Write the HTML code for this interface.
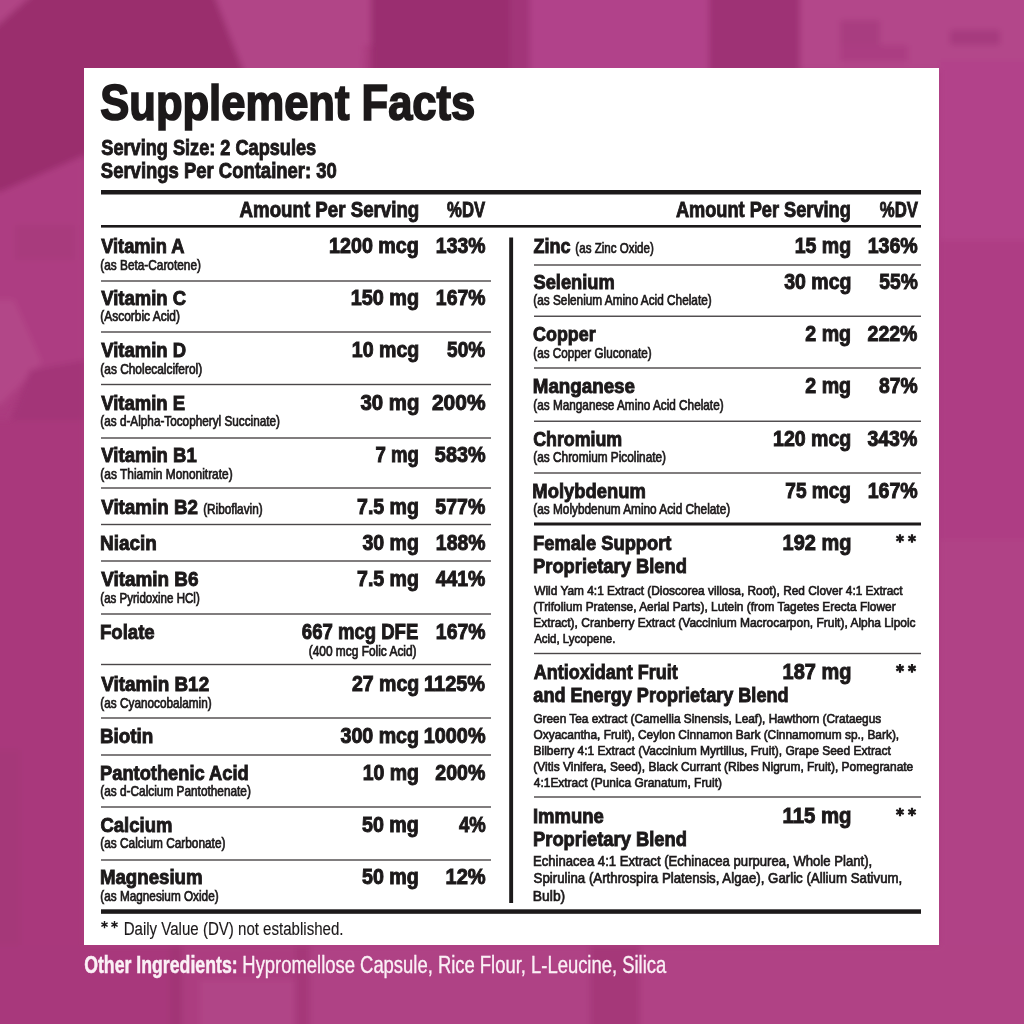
<!DOCTYPE html>
<html><head><meta charset="utf-8"><title>Supplement Facts</title>
<style>
html,body{margin:0;padding:0;width:1024px;height:1024px;overflow:hidden;background:#ab3c7f;}
svg{display:block;will-change:transform;}
text{font-family:"Liberation Sans",sans-serif;}
.B{font-weight:700;}
</style></head><body>
<svg width="1024" height="1024" viewBox="0 0 1024 1024">
<defs><filter id="bl" x="-10%" y="-10%" width="120%" height="120%"><feGaussianBlur stdDeviation="3"/></filter></defs>
<rect x="0" y="0" width="1024" height="1024" fill="#ab3c7f"/>
<g filter="url(#bl)">
<polygon points="-10,-10 250,-10 250,150 85,155 0,192 -10,192" fill="#9a2d6d"/>
<polygon points="-10,-10 38,-10 -10,32" fill="#b04585"/>
<polygon points="212,-10 372,-10 371,45 364,45 363,80 247,80" fill="#b14587"/>
<rect x="371" y="-10" width="139" height="90" fill="#9a2f70"/>
<rect x="510" y="-10" width="20" height="90" fill="#a23679"/>
<rect x="530" y="-10" width="180" height="90" fill="#b1438a"/>
<rect x="709" y="-10" width="91" height="90" fill="#9e3274"/>
<rect x="800" y="-10" width="240" height="80" fill="#b3468a"/>
<rect x="840" y="20" width="40" height="30" fill="#a83c80"/>
<rect x="950" y="30" width="50" height="15" fill="#a63a7e"/>
<rect x="840" y="45" width="68" height="17" fill="#ab3e82"/>
<polygon points="-10,192 0,192 85,155 85,370 -10,370" fill="#ad3e82"/>
<rect x="15" y="225" width="60" height="35" fill="#a83a7d"/>
<polygon points="-10,300 14,300 42,363 0,405 -10,405" fill="#b24688"/>
<polygon points="30,370 85,360 85,440 10,420" fill="#a33478"/>
<rect x="-10" y="420" width="95" height="530" fill="#a9397c"/>
<rect x="-10" y="750" width="30" height="200" fill="#a53779"/>
<rect x="939" y="60" width="95" height="180" fill="#b2438a"/>
<rect x="939" y="240" width="95" height="300" fill="#ae3e84"/>
<rect x="939" y="540" width="95" height="420" fill="#b04286"/>
<rect x="-10" y="945" width="180" height="90" fill="#a8387b"/>
<rect x="170" y="945" width="12" height="90" fill="#a13476"/>
<rect x="182" y="945" width="118" height="90" fill="#ac3d80"/>
<rect x="200" y="980" width="95" height="50" fill="#b04587"/>
<rect x="295" y="945" width="15" height="90" fill="#a53879"/>
<rect x="310" y="945" width="280" height="90" fill="#af4285"/>
<rect x="590" y="945" width="50" height="90" fill="#a53879"/>
<rect x="640" y="945" width="394" height="90" fill="#b04385"/>
</g>
<rect x="84" y="68" width="855" height="877" fill="#ffffff"/>
<rect x="101" y="190" width="820" height="4.5" fill="#1c191a"/>
<rect x="101" y="225" width="820" height="2.6" fill="#1c191a"/>
<rect x="101" y="909.3" width="820" height="4.5" fill="#1c191a"/>
<rect x="509.2" y="237.5" width="3.9" height="665.5" fill="#1c191a"/>
<rect x="101" y="280.3" width="390" height="1.4" fill="#4a4648"/>
<rect x="101" y="331.3" width="390" height="1.4" fill="#4a4648"/>
<rect x="101" y="383.8" width="390" height="1.4" fill="#4a4648"/>
<rect x="101" y="437.3" width="390" height="1.4" fill="#4a4648"/>
<rect x="101" y="487.3" width="390" height="1.4" fill="#4a4648"/>
<rect x="101" y="523.8" width="390" height="1.4" fill="#4a4648"/>
<rect x="101" y="560.3" width="390" height="1.4" fill="#4a4648"/>
<rect x="101" y="613.3" width="390" height="1.4" fill="#4a4648"/>
<rect x="101" y="663.8" width="390" height="1.4" fill="#4a4648"/>
<rect x="101" y="717.3" width="390" height="1.4" fill="#4a4648"/>
<rect x="101" y="754.3" width="390" height="1.4" fill="#4a4648"/>
<rect x="101" y="806.3" width="390" height="1.4" fill="#4a4648"/>
<rect x="101" y="859.3" width="390" height="1.4" fill="#4a4648"/>
<rect x="534" y="264.3" width="387" height="1.4" fill="#4a4648"/>
<rect x="534" y="315.55" width="387" height="1.4" fill="#4a4648"/>
<rect x="534" y="367.3" width="387" height="1.4" fill="#4a4648"/>
<rect x="534" y="420.55" width="387" height="1.4" fill="#4a4648"/>
<rect x="534" y="472.3" width="387" height="1.4" fill="#4a4648"/>
<rect x="534" y="522.5" width="387" height="3" fill="#1c191a"/>
<rect x="534" y="652.8" width="387" height="1.4" fill="#4a4648"/>
<rect x="534" y="796.3" width="387" height="1.4" fill="#4a4648"/>
<text class="B" stroke="#1c191a" stroke-width="1.7" transform="translate(100.28 119.9) scale(0.8799 1)" font-size="49.5" fill="#1c191a">Supplement Facts</text>
<text class="B" stroke="#1c191a" stroke-width="0.9" transform="translate(101.36 154.5) scale(0.8329 1)" font-size="21.8" fill="#1c191a">Serving Size: 2 Capsules</text>
<text class="B" stroke="#1c191a" stroke-width="0.9" transform="translate(100.85 177.5) scale(0.8475 1)" font-size="21.8" fill="#1c191a">Servings Per Container: 30</text>
<text class="B" stroke="#1c191a" stroke-width="0.9" transform="translate(419.28 217.2) scale(0.8823 1)" font-size="21.2" text-anchor="end" fill="#1c191a">Amount Per Serving</text>
<text class="B" stroke="#1c191a" stroke-width="0.9" transform="translate(485.09 217.2) scale(0.7877 1)" font-size="21.2" text-anchor="end" fill="#1c191a">%DV</text>
<text class="B" stroke="#1c191a" stroke-width="0.9" transform="translate(850.86 217) scale(0.8590 1)" font-size="21.2" text-anchor="end" fill="#1c191a">Amount Per Serving</text>
<text class="B" stroke="#1c191a" stroke-width="0.9" transform="translate(917.97 217) scale(0.7900 1)" font-size="21.2" text-anchor="end" fill="#1c191a">%DV</text>
<text class="B" stroke="#1c191a" stroke-width="0.95" transform="translate(101.13 253) scale(0.8673 1)" font-size="21.1" fill="#1c191a">Vitamin A</text>
<text stroke="#1c191a" stroke-width="0.7" transform="translate(100.32 269.5) scale(0.8580 1)" font-size="13.8" fill="#1c191a">(as Beta-Carotene)</text>
<text class="B" stroke="#1c191a" stroke-width="0.95" transform="translate(418.73 253) scale(0.9288 1)" font-size="21.2" text-anchor="end" fill="#1c191a">1200 mcg</text>
<text class="B" stroke="#1c191a" stroke-width="0.95" transform="translate(485.46 253) scale(0.9157 1)" font-size="21.2" text-anchor="end" fill="#1c191a">133%</text>
<text class="B" stroke="#1c191a" stroke-width="0.95" transform="translate(101.21 305) scale(0.8758 1)" font-size="21.1" fill="#1c191a">Vitamin C</text>
<text stroke="#1c191a" stroke-width="0.7" transform="translate(100.31 321) scale(0.8662 1)" font-size="13.8" fill="#1c191a">(Ascorbic Acid)</text>
<text class="B" stroke="#1c191a" stroke-width="0.95" transform="translate(419.00 305) scale(0.9342 1)" font-size="21.2" text-anchor="end" fill="#1c191a">150 mg</text>
<text class="B" stroke="#1c191a" stroke-width="0.95" transform="translate(485.46 305) scale(0.9157 1)" font-size="21.2" text-anchor="end" fill="#1c191a">167%</text>
<text class="B" stroke="#1c191a" stroke-width="0.95" transform="translate(101.20 357) scale(0.8756 1)" font-size="21.1" fill="#1c191a">Vitamin D</text>
<text stroke="#1c191a" stroke-width="0.7" transform="translate(100.31 374) scale(0.8637 1)" font-size="13.8" fill="#1c191a">(as Cholecalciferol)</text>
<text class="B" stroke="#1c191a" stroke-width="0.95" transform="translate(419.26 357) scale(0.9235 1)" font-size="21.2" text-anchor="end" fill="#1c191a">10 mcg</text>
<text class="B" stroke="#1c191a" stroke-width="0.95" transform="translate(485.12 357) scale(0.8973 1)" font-size="21.2" text-anchor="end" fill="#1c191a">50%</text>
<text class="B" stroke="#1c191a" stroke-width="0.95" transform="translate(101.17 409.5) scale(0.8767 1)" font-size="21.1" fill="#1c191a">Vitamin E</text>
<text stroke="#1c191a" stroke-width="0.7" transform="translate(100.31 426) scale(0.8523 1)" font-size="13.8" fill="#1c191a">(as d-Alpha-Tocopheryl Succinate)</text>
<text class="B" stroke="#1c191a" stroke-width="0.95" transform="translate(419.36 409.5) scale(0.9625 1)" font-size="21.2" text-anchor="end" fill="#1c191a">30 mg</text>
<text class="B" stroke="#1c191a" stroke-width="0.95" transform="translate(485.50 409.5) scale(0.9878 1)" font-size="21.2" text-anchor="end" fill="#1c191a">200%</text>
<text class="B" stroke="#1c191a" stroke-width="0.95" transform="translate(101.35 462) scale(0.8776 1)" font-size="21.1" fill="#1c191a">Vitamin B1</text>
<text stroke="#1c191a" stroke-width="0.7" transform="translate(100.34 478.5) scale(0.8647 1)" font-size="13.8" fill="#1c191a">(as Thiamin Mononitrate)</text>
<text class="B" stroke="#1c191a" stroke-width="0.95" transform="translate(418.90 462) scale(0.8771 1)" font-size="21.2" text-anchor="end" fill="#1c191a">7 mg</text>
<text class="B" stroke="#1c191a" stroke-width="0.95" transform="translate(485.63 462) scale(0.9372 1)" font-size="21.2" text-anchor="end" fill="#1c191a">583%</text>
<text class="B" stroke="#1c191a" stroke-width="0.95" transform="translate(101.21 514) scale(0.8903 1)" font-size="21.1" fill="#1c191a">Vitamin B2</text>
<text class="B" stroke="#1c191a" stroke-width="0.95" transform="translate(418.94 514) scale(0.9226 1)" font-size="21.2" text-anchor="end" fill="#1c191a">7.5 mg</text>
<text class="B" stroke="#1c191a" stroke-width="0.95" transform="translate(485.29 514) scale(0.9228 1)" font-size="21.2" text-anchor="end" fill="#1c191a">577%</text>
<text class="B" stroke="#1c191a" stroke-width="0.95" transform="translate(100.00 549.5) scale(0.8974 1)" font-size="21.1" fill="#1c191a">Niacin</text>
<text class="B" stroke="#1c191a" stroke-width="0.95" transform="translate(418.91 549.5) scale(0.9223 1)" font-size="21.2" text-anchor="end" fill="#1c191a">30 mg</text>
<text class="B" stroke="#1c191a" stroke-width="0.95" transform="translate(485.46 549.5) scale(0.9157 1)" font-size="21.2" text-anchor="end" fill="#1c191a">188%</text>
<text class="B" stroke="#1c191a" stroke-width="0.95" transform="translate(101.22 586) scale(0.8964 1)" font-size="21.1" fill="#1c191a">Vitamin B6</text>
<text stroke="#1c191a" stroke-width="0.7" transform="translate(100.32 602.5) scale(0.8366 1)" font-size="13.8" fill="#1c191a">(as Pyridoxine HCl)</text>
<text class="B" stroke="#1c191a" stroke-width="0.95" transform="translate(418.94 586) scale(0.9226 1)" font-size="21.2" text-anchor="end" fill="#1c191a">7.5 mg</text>
<text class="B" stroke="#1c191a" stroke-width="0.95" transform="translate(485.42 586) scale(0.9186 1)" font-size="21.2" text-anchor="end" fill="#1c191a">441%</text>
<text class="B" stroke="#1c191a" stroke-width="0.95" transform="translate(99.94 639) scale(0.8823 1)" font-size="21.1" fill="#1c191a">Folate</text>
<text class="B" stroke="#1c191a" stroke-width="0.95" transform="translate(418.26 639) scale(0.8747 1)" font-size="21.2" text-anchor="end" fill="#1c191a">667 mcg DFE</text>
<text class="B" stroke="#1c191a" stroke-width="0.95" transform="translate(485.46 639) scale(0.9157 1)" font-size="21.2" text-anchor="end" fill="#1c191a">167%</text>
<text class="B" stroke="#1c191a" stroke-width="0.95" transform="translate(101.22 691) scale(0.8970 1)" font-size="21.1" fill="#1c191a">Vitamin B12</text>
<text stroke="#1c191a" stroke-width="0.7" transform="translate(100.33 707.5) scale(0.8543 1)" font-size="13.8" fill="#1c191a">(as Cyanocobalamin)</text>
<text class="B" stroke="#1c191a" stroke-width="0.95" transform="translate(419.25 691) scale(0.9222 1)" font-size="21.2" text-anchor="end" fill="#1c191a">27 mcg</text>
<text class="B" stroke="#1c191a" stroke-width="0.95" transform="translate(485.10 691) scale(0.9409 1)" font-size="21.2" text-anchor="end" fill="#1c191a">1125%</text>
<text class="B" stroke="#1c191a" stroke-width="0.95" transform="translate(99.96 743) scale(0.8929 1)" font-size="21.1" fill="#1c191a">Biotin</text>
<text class="B" stroke="#1c191a" stroke-width="0.95" transform="translate(418.97 743) scale(0.9259 1)" font-size="21.2" text-anchor="end" fill="#1c191a">300 mcg</text>
<text class="B" stroke="#1c191a" stroke-width="0.95" transform="translate(485.58 743) scale(0.9375 1)" font-size="21.2" text-anchor="end" fill="#1c191a">1000%</text>
<text class="B" stroke="#1c191a" stroke-width="0.95" transform="translate(100.04 779.5) scale(0.8664 1)" font-size="21.1" fill="#1c191a">Pantothenic Acid</text>
<text stroke="#1c191a" stroke-width="0.7" transform="translate(100.31 796) scale(0.8583 1)" font-size="13.8" fill="#1c191a">(as d-Calcium Pantothenate)</text>
<text class="B" stroke="#1c191a" stroke-width="0.95" transform="translate(418.95 779.5) scale(0.9191 1)" font-size="21.2" text-anchor="end" fill="#1c191a">10 mg</text>
<text class="B" stroke="#1c191a" stroke-width="0.95" transform="translate(485.35 779.5) scale(0.9235 1)" font-size="21.2" text-anchor="end" fill="#1c191a">200%</text>
<text class="B" stroke="#1c191a" stroke-width="0.95" transform="translate(100.52 832) scale(0.8752 1)" font-size="21.1" fill="#1c191a">Calcium</text>
<text stroke="#1c191a" stroke-width="0.7" transform="translate(100.31 848) scale(0.8588 1)" font-size="13.8" fill="#1c191a">(as Calcium Carbonate)</text>
<text class="B" stroke="#1c191a" stroke-width="0.95" transform="translate(418.76 832) scale(0.9254 1)" font-size="21.2" text-anchor="end" fill="#1c191a">50 mg</text>
<text class="B" stroke="#1c191a" stroke-width="0.95" transform="translate(485.67 832) scale(0.8743 1)" font-size="21.2" text-anchor="end" fill="#1c191a">4%</text>
<text class="B" stroke="#1c191a" stroke-width="0.95" transform="translate(99.92 884) scale(0.8853 1)" font-size="21.1" fill="#1c191a">Magnesium</text>
<text stroke="#1c191a" stroke-width="0.7" transform="translate(100.34 900.5) scale(0.8526 1)" font-size="13.8" fill="#1c191a">(as Magnesium Oxide)</text>
<text class="B" stroke="#1c191a" stroke-width="0.95" transform="translate(418.76 884) scale(0.9254 1)" font-size="21.2" text-anchor="end" fill="#1c191a">50 mg</text>
<text class="B" stroke="#1c191a" stroke-width="0.95" transform="translate(485.72 884) scale(0.9479 1)" font-size="21.2" text-anchor="end" fill="#1c191a">12%</text>
<text stroke="#1c191a" stroke-width="0.7" transform="translate(203.13 514) scale(0.8532 1)" font-size="13.8" fill="#1c191a">(Riboflavin)</text>
<text stroke="#1c191a" stroke-width="0.7" transform="translate(416.58 655.5) scale(0.8646 1)" font-size="13.8" text-anchor="end" fill="#1c191a">(400 mcg Folic Acid)</text>
<text class="B" stroke="#1c191a" stroke-width="0.95" transform="translate(533.41 253) scale(0.8544 1)" font-size="21.1" fill="#1c191a">Zinc</text>
<text class="B" stroke="#1c191a" stroke-width="0.95" transform="translate(851.09 253) scale(0.9218 1)" font-size="21.2" text-anchor="end" fill="#1c191a">15 mg</text>
<text class="B" stroke="#1c191a" stroke-width="0.95" transform="translate(917.74 253) scale(0.9241 1)" font-size="21.2" text-anchor="end" fill="#1c191a">136%</text>
<text class="B" stroke="#1c191a" stroke-width="0.95" transform="translate(533.44 288.75) scale(0.8669 1)" font-size="21.1" fill="#1c191a">Selenium</text>
<text stroke="#1c191a" stroke-width="0.7" transform="translate(533.35 305) scale(0.8554 1)" font-size="13.8" fill="#1c191a">(as Selenium Amino Acid Chelate)</text>
<text class="B" stroke="#1c191a" stroke-width="0.95" transform="translate(851.45 288.75) scale(0.9195 1)" font-size="21.2" text-anchor="end" fill="#1c191a">30 mcg</text>
<text class="B" stroke="#1c191a" stroke-width="0.95" transform="translate(917.80 288.75) scale(0.9070 1)" font-size="21.2" text-anchor="end" fill="#1c191a">55%</text>
<text class="B" stroke="#1c191a" stroke-width="0.95" transform="translate(533.10 341.25) scale(0.8479 1)" font-size="21.1" fill="#1c191a">Copper</text>
<text stroke="#1c191a" stroke-width="0.7" transform="translate(533.35 357.5) scale(0.8488 1)" font-size="13.8" fill="#1c191a">(as Copper Gluconate)</text>
<text class="B" stroke="#1c191a" stroke-width="0.95" transform="translate(851.06 341.25) scale(0.9259 1)" font-size="21.2" text-anchor="end" fill="#1c191a">2 mg</text>
<text class="B" stroke="#1c191a" stroke-width="0.95" transform="translate(917.42 341.25) scale(0.9192 1)" font-size="21.2" text-anchor="end" fill="#1c191a">222%</text>
<text class="B" stroke="#1c191a" stroke-width="0.95" transform="translate(532.78 393.25) scale(0.8896 1)" font-size="21.1" fill="#1c191a">Manganese</text>
<text stroke="#1c191a" stroke-width="0.7" transform="translate(533.31 409.5) scale(0.8535 1)" font-size="13.8" fill="#1c191a">(as Manganese Amino Acid Chelate)</text>
<text class="B" stroke="#1c191a" stroke-width="0.95" transform="translate(851.06 393.25) scale(0.9259 1)" font-size="21.2" text-anchor="end" fill="#1c191a">2 mg</text>
<text class="B" stroke="#1c191a" stroke-width="0.95" transform="translate(917.76 393.25) scale(0.9123 1)" font-size="21.2" text-anchor="end" fill="#1c191a">87%</text>
<text class="B" stroke="#1c191a" stroke-width="0.95" transform="translate(533.13 445.75) scale(0.8450 1)" font-size="21.1" fill="#1c191a">Chromium</text>
<text stroke="#1c191a" stroke-width="0.7" transform="translate(533.31 462) scale(0.8577 1)" font-size="13.8" fill="#1c191a">(as Chromium Picolinate)</text>
<text class="B" stroke="#1c191a" stroke-width="0.95" transform="translate(851.24 445.75) scale(0.9227 1)" font-size="21.2" text-anchor="end" fill="#1c191a">120 mcg</text>
<text class="B" stroke="#1c191a" stroke-width="0.95" transform="translate(917.34 445.75) scale(0.9206 1)" font-size="21.2" text-anchor="end" fill="#1c191a">343%</text>
<text class="B" stroke="#1c191a" stroke-width="0.95" transform="translate(532.35 497.5) scale(0.8722 1)" font-size="21.1" fill="#1c191a">Molybdenum</text>
<text stroke="#1c191a" stroke-width="0.7" transform="translate(533.35 513.75) scale(0.8564 1)" font-size="13.8" fill="#1c191a">(as Molybdenum Amino Acid Chelate)</text>
<text class="B" stroke="#1c191a" stroke-width="0.95" transform="translate(851.03 497.5) scale(0.9007 1)" font-size="21.2" text-anchor="end" fill="#1c191a">75 mcg</text>
<text class="B" stroke="#1c191a" stroke-width="0.95" transform="translate(917.74 497.5) scale(0.9241 1)" font-size="21.2" text-anchor="end" fill="#1c191a">167%</text>
<text stroke="#1c191a" stroke-width="0.7" transform="translate(575.36 253) scale(0.8391 1)" font-size="13.8" fill="#1c191a">(as Zinc Oxide)</text>
<text class="B" stroke="#1c191a" stroke-width="0.95" transform="translate(533.03 549.5) scale(0.8685 1)" font-size="21.1" fill="#1c191a">Female Support</text>
<text class="B" stroke="#1c191a" stroke-width="0.95" transform="translate(533.03 572.5) scale(0.8700 1)" font-size="21.1" fill="#1c191a">Proprietary Blend</text>
<text class="B" stroke="#1c191a" stroke-width="0.95" transform="translate(851.36 549.5) scale(0.9413 1)" font-size="21.2" text-anchor="end" fill="#1c191a">192 mg</text>
<text stroke="#1c191a" stroke-width="0.7" transform="translate(534.25 595) scale(0.8669 1)" font-size="13.7" fill="#1c191a">Wild Yam 4:1 Extract (Dioscorea villosa, Root), Red Clover 4:1 Extract</text>
<text stroke="#1c191a" stroke-width="0.7" transform="translate(533.37 611) scale(0.8673 1)" font-size="13.7" fill="#1c191a">(Trifolium Pratense, Aerial Parts), Lutein (from Tagetes Erecta Flower</text>
<text stroke="#1c191a" stroke-width="0.7" transform="translate(533.37 627.2) scale(0.8741 1)" font-size="13.7" fill="#1c191a">Extract), Cranberry Extract (Vaccinium Macrocarpon, Fruit), Alpha Lipoic</text>
<text stroke="#1c191a" stroke-width="0.7" transform="translate(534.15 643.2) scale(0.8387 1)" font-size="13.7" fill="#1c191a">Acid, Lycopene.</text>
<text class="B" stroke="#1c191a" stroke-width="0.95" transform="translate(533.65 679.4) scale(0.8535 1)" font-size="21.1" fill="#1c191a">Antioxidant Fruit</text>
<text class="B" stroke="#1c191a" stroke-width="0.95" transform="translate(533.35 701.5) scale(0.8573 1)" font-size="21.1" fill="#1c191a">and Energy Proprietary Blend</text>
<text class="B" stroke="#1c191a" stroke-width="0.95" transform="translate(851.36 679.4) scale(0.9413 1)" font-size="21.2" text-anchor="end" fill="#1c191a">187 mg</text>
<text stroke="#1c191a" stroke-width="0.7" transform="translate(533.39 722.9) scale(0.8645 1)" font-size="13.7" fill="#1c191a">Green Tea extract (Camellia Sinensis, Leaf), Hawthorn (Crataegus</text>
<text stroke="#1c191a" stroke-width="0.7" transform="translate(533.55 739) scale(0.8685 1)" font-size="13.7" fill="#1c191a">Oxyacantha, Fruit), Ceylon Cinnamon Bark (Cinnamomum sp., Bark),</text>
<text stroke="#1c191a" stroke-width="0.7" transform="translate(533.47 755.1) scale(0.8772 1)" font-size="13.7" fill="#1c191a">Bilberry 4:1 Extract (Vaccinium Myrtillus, Fruit), Grape Seed Extract</text>
<text stroke="#1c191a" stroke-width="0.7" transform="translate(533.35 771.2) scale(0.8728 1)" font-size="13.7" fill="#1c191a">(Vitis Vinifera, Seed), Black Currant (Ribes Nigrum, Fruit), Pomegranate</text>
<text stroke="#1c191a" stroke-width="0.7" transform="translate(533.83 787.4) scale(0.8712 1)" font-size="13.7" fill="#1c191a">4:1Extract (Punica Granatum, Fruit)</text>
<text class="B" stroke="#1c191a" stroke-width="0.95" transform="translate(532.93 823) scale(0.8767 1)" font-size="21.1" fill="#1c191a">Immune</text>
<text class="B" stroke="#1c191a" stroke-width="0.95" transform="translate(533.03 845.6) scale(0.8700 1)" font-size="21.1" fill="#1c191a">Proprietary Blend</text>
<text class="B" stroke="#1c191a" stroke-width="0.95" transform="translate(851.46 823) scale(0.9591 1)" font-size="21.2" text-anchor="end" fill="#1c191a">115 mg</text>
<text stroke="#1c191a" stroke-width="0.7" transform="translate(532.90 865.8) scale(0.8873 1)" font-size="14.8" fill="#1c191a">Echinacea 4:1 Extract (Echinacea purpurea, Whole Plant),</text>
<text stroke="#1c191a" stroke-width="0.7" transform="translate(533.56 883.4) scale(0.8976 1)" font-size="14.8" fill="#1c191a">Spirulina (Arthrospira Platensis, Algae), Garlic (Allium Sativum,</text>
<text stroke="#1c191a" stroke-width="0.7" transform="translate(532.86 901) scale(0.9376 1)" font-size="14.8" fill="#1c191a">Bulb)</text>
<text stroke="#1c191a" stroke-width="0.15" transform="translate(123.66 934.5) scale(0.7973 1)" font-size="18.9" fill="#1c191a">Daily Value (DV) not established.</text>
<text class="B" stroke="#fbf0f6" stroke-width="0.5" transform="translate(84.15 972.5) scale(0.7506 1)" font-size="23.6" fill="#fbf0f6">Other Ingredients:</text>
<text stroke="#fbf0f6" stroke-width="0.35" transform="translate(242.35 972.5) scale(0.7813 1)" font-size="23.6" fill="#fbf0f6">Hypromellose Capsule, Rice Flour, L-Leucine, Silica</text>
<path d="M900.00 534.20L900.00 542.80M896.28 536.35L903.72 540.65M903.72 536.35L896.28 540.65" stroke="#1c191a" stroke-width="2.2" fill="none"/>
<path d="M912.00 534.20L912.00 542.80M908.28 536.35L915.72 540.65M915.72 536.35L908.28 540.65" stroke="#1c191a" stroke-width="2.2" fill="none"/>
<path d="M900.00 664.10L900.00 672.70M896.28 666.25L903.72 670.55M903.72 666.25L896.28 670.55" stroke="#1c191a" stroke-width="2.2" fill="none"/>
<path d="M912.00 664.10L912.00 672.70M908.28 666.25L915.72 670.55M915.72 666.25L908.28 670.55" stroke="#1c191a" stroke-width="2.2" fill="none"/>
<path d="M900.00 807.70L900.00 816.30M896.28 809.85L903.72 814.15M903.72 809.85L896.28 814.15" stroke="#1c191a" stroke-width="2.2" fill="none"/>
<path d="M912.00 807.70L912.00 816.30M908.28 809.85L915.72 814.15M915.72 809.85L908.28 814.15" stroke="#1c191a" stroke-width="2.2" fill="none"/>
<path d="M104.50 921.00L104.50 928.20M101.38 922.80L107.62 926.40M107.62 922.80L101.38 926.40" stroke="#1c191a" stroke-width="1.4" fill="none"/>
<path d="M114.50 921.00L114.50 928.20M111.38 922.80L117.62 926.40M117.62 922.80L111.38 926.40" stroke="#1c191a" stroke-width="1.4" fill="none"/>
</svg>
</body></html>
